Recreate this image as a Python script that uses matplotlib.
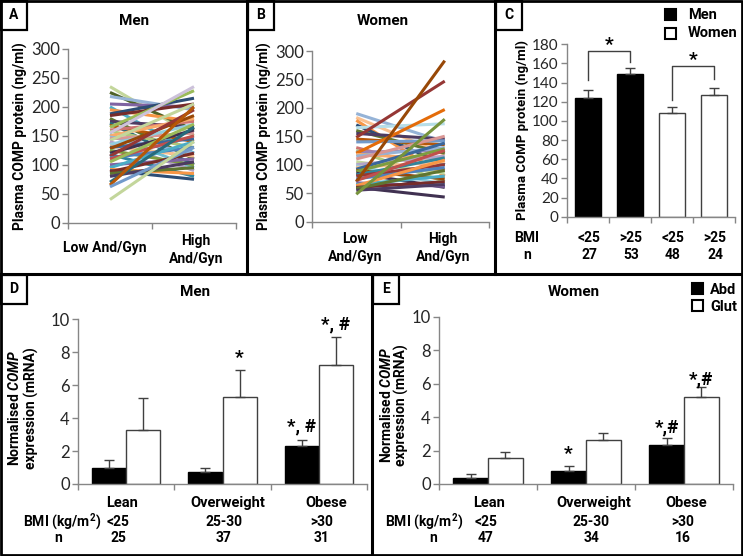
import matplotlib
matplotlib.use("Agg")
import matplotlib.pyplot as plt
from matplotlib.patches import Rectangle
from matplotlib.lines import Line2D

plt.rcParams['font.family'] = ['Roboto', 'DejaVu Sans']
plt.rcParams['mathtext.fontset'] = 'custom'
plt.rcParams['mathtext.bfit'] = 'Roboto:italic:bold'
plt.rcParams['mathtext.bf'] = 'Roboto:bold'

W, H = 743, 556
BOLD = "bold"

# panel A / B : plasma COMP per subject, low vs high And/Gyn
groups_ab = ["Low And/Gyn", "High\nAnd/Gyn"]
men_low = [235, 225, 218, 205, 200, 195, 188, 185, 180, 175, 172, 168, 165, 160, 158, 155,
           152, 150, 148, 145, 142, 140, 135, 132, 130, 128, 125, 120, 118, 115, 112, 110,
           105, 100, 95, 92, 90, 88, 85, 80, 70, 65, 62, 40]
men_high = [150, 160, 195, 200, 120, 175, 215, 205, 110, 165, 100, 140, 228, 175, 130, 235,
            95, 180, 120, 155, 205, 90, 170, 115, 145, 185, 100, 160, 80, 195, 130, 150,
            170, 110, 140, 85, 75, 120, 95, 105, 165, 200, 130, 140]
women_low = [190, 183, 178, 170, 165, 160, 155, 148, 145, 140, 130, 125, 122, 120, 118, 115,
             110, 105, 100, 98, 95, 92, 90, 88, 85, 82, 80, 75, 72, 70, 68, 65, 63, 60, 60,
             58, 55, 48]
women_high = [140, 118, 80, 100, 172, 120, 145, 247, 135, 142, 90, 70, 125, 197, 110, 130,
              150, 85, 115, 65, 105, 138, 75, 128, 60, 112, 100, 95, 125, 283, 62, 80, 108,
              43, 70, 90, 65, 180]

# panel C
c_labels = ["<25", ">25", "<25", ">25"]
c_n = ["27", "53", "48", "24"]
c_men = [124, 149]
c_men_err = [8, 6]
c_women = [108, 127]
c_women_err = [7, 7]

# panel D / E
bmi_groups = ["Lean", "Overweight", "Obese"]
bmi_ranges = ["<25", "25-30", ">30"]
d_n = ["25", "37", "31"]
e_n = ["47", "34", "16"]
d_abd = [1.0, 0.7, 2.3]
d_abd_err = [0.45, 0.3, 0.4]
d_glut = [3.3, 5.3, 7.2]
d_glut_err = [1.9, 1.6, 1.7]
e_abd = [0.35, 0.8, 2.35]
e_abd_err = [0.25, 0.3, 0.4]
e_glut = [1.55, 2.65, 5.2]
e_glut_err = [0.35, 0.4, 0.6]

palette = ["#4F81BD", "#C0504D", "#9BBB59", "#8064A2", "#4BACC6", "#F79646",
           "#2C4D75", "#772C2A", "#5F7530", "#4D3B62", "#276A7C", "#B65708",
           "#729ACA", "#CD7371", "#AFC97A", "#9983B5", "#6FBDD1", "#F9AB6B",
           "#95B3D7", "#D99694", "#C3D69B", "#B3A2C7", "#93CDDD", "#FAC090",
           "#3A679C", "#984807", "#7E9D40", "#403151", "#31859C", "#953735"]

men_colors = [palette[i % len(palette)] for i in range(len(men_low))]
men_colors[0] = "#C3D69B"
men_colors[1] = "#4F6228"
men_colors[2] = "#95B3D7"
men_colors[12] = "#9BBB59"
men_colors[15] = "#CCC1DA"
men_colors[43] = "#C3D69B"
women_colors = [palette[(i + 3) % len(palette)] for i in range(len(women_low))]
women_colors[0] = "#95B3D7"
women_colors[1] = "#FAC090"
women_colors[4] = "#B7DEE8"
women_colors[7] = "#953735"
women_colors[13] = "#E46C0A"
women_colors[29] = "#984807"
women_colors[33] = "#403151"
women_colors[37] = "#77933C"

AXC = "#868686"
TXT = "#262626"

fig = plt.figure(figsize=(W / 100, H / 100), dpi=100)


def ax_at(x0, y0, x1, y1):
    return fig.add_axes([x0 / W, 1 - y1 / H, (x1 - x0) / W, (y1 - y0) / H])


def ftext(x, y, s, **kw):
    kw.setdefault("ha", "center")
    kw.setdefault("va", "center")
    kw.setdefault("fontweight", BOLD)
    kw.setdefault("color", "black")
    fig.text(x / W, 1 - y / H, s, **kw)


def fline(xs, ys, lw=2.2):
    fig.add_artist(Line2D([x / W for x in xs], [1 - y / H for y in ys],
                          color="black", lw=lw, transform=fig.transFigure))


def frect(x, y, w, h, fc="white", lw=1.5):
    fig.add_artist(Rectangle((x / W, 1 - (y + h) / H), w / W, h / H, fc=fc,
                             ec="black", lw=lw, transform=fig.transFigure))


def excel_axes(ax, ymax, ystep, ncat, fs):
    for s in ["top", "right"]:
        ax.spines[s].set_visible(False)
    for s in ["left", "bottom"]:
        ax.spines[s].set_color(AXC)
        ax.spines[s].set_linewidth(1)
    ax.set_ylim(0, ymax)
    ax.set_yticks(range(0, ymax + 1, ystep))
    ax.set_xlim(-0.5, ncat - 0.5)
    ax.set_xticks([i - 0.5 for i in range(ncat + 1)])
    ax.set_xticklabels([])
    ax.tick_params(axis="both", color=AXC, length=4, width=1, labelsize=fs,
                   labelcolor=TXT, pad=2)
    for lab in ax.get_yticklabels():
        lab.set_family(["Lato", "DejaVu Sans"])
    ax.patch.set_alpha(0)


# ---- A ----
axA = ax_at(68, 49, 236, 222.7)
excel_axes(axA, 300, 50, 2, 12)
for i in range(len(men_low)):
    axA.plot([0, 1], [men_low[i], men_high[i]], color=men_colors[i], lw=2.2,
             solid_capstyle="butt")
axA.set_ylabel("Plasma COMP protein (ng/ml)", fontsize=10, fontweight=BOLD, labelpad=2)
ftext(105, 248, "Low And/Gyn", fontsize=10)
ftext(196, 250, groups_ab[1], fontsize=10, linespacing=1.3)
ftext(134, 21, "Men", fontsize=11)

# ---- B ----
axB = ax_at(312, 51, 489, 221.5)
excel_axes(axB, 300, 50, 2, 12)
for i in range(len(women_low)):
    axB.plot([0, 1], [women_low[i], women_high[i]], color=women_colors[i],
             lw=2.2, solid_capstyle="butt")
axB.set_ylabel("Plasma COMP protein (ng/ml)", fontsize=10, fontweight=BOLD, labelpad=2)
ftext(355, 248, "Low\nAnd/Gyn", fontsize=10, linespacing=1.3)
ftext(443, 248, groups_ab[1], fontsize=10, linespacing=1.3)
ftext(383, 21, "Women", fontsize=11)

# ---- C ----
axC = ax_at(567, 44.3, 735, 216.7)
excel_axes(axC, 180, 20, 4, 11)
bw = 0.6
axC.bar([0, 1], c_men, bw, color="black", edgecolor="black", lw=1, zorder=2)
axC.bar([2, 3], c_women, bw, color="white", edgecolor="#404040", lw=1, zorder=2)
axC.errorbar([0, 1], c_men, yerr=[[0, 0], c_men_err], fmt="none", ecolor="#404040",
             elinewidth=1, capsize=3.5, zorder=3)
axC.errorbar([2, 3], c_women, yerr=[[0, 0], c_women_err], fmt="none", ecolor="#404040",
             elinewidth=1, capsize=3.5, zorder=3)
axC.plot([0, 0, 1, 1], [143, 173, 173, 162], color="#404040", lw=1)
axC.plot([2, 2, 3, 3], [122, 157, 157, 144], color="#404040", lw=1)
axC.text(0.5, 170, "*", ha="center", va="bottom", fontsize=14, fontweight=BOLD)
axC.text(2.5, 154, "*", ha="center", va="bottom", fontsize=14, fontweight=BOLD)
axC.set_ylabel("Plasma COMP protein (ng/ml)", fontsize=9.5, fontweight=BOLD, labelpad=2)
ftext(527, 238, "BMI", fontsize=10)
ftext(527, 255, "n", fontsize=10)
for i in range(4):
    ftext(589 + i * 42, 238, c_labels[i], fontsize=10)
    ftext(589 + i * 42, 255, c_n[i], fontsize=10)
frect(665, 9, 11, 11, fc="black")
frect(665, 28, 11, 11, fc="white")
ftext(688, 15, "Men", fontsize=10.5, ha="left")
ftext(688, 33, "Women", fontsize=10.5, ha="left")


# ---- D / E ----
def bmi_panel(x0, x1, ytop, abd, abd_err, glut, glut_err):
    ax = ax_at(x0, ytop, x1, 484)
    excel_axes(ax, 10, 2, 3, 12)
    bw = 0.355
    xs = list(range(3))
    ax.bar([x - bw / 2 for x in xs], abd, bw, color="black", edgecolor="black", lw=1, zorder=2)
    ax.bar([x + bw / 2 for x in xs], glut, bw, color="white", edgecolor="#404040", lw=1,
           zorder=2)
    ax.errorbar([x - bw / 2 for x in xs], abd, yerr=[[0] * 3, abd_err], fmt="none",
                ecolor="#404040", elinewidth=1, capsize=3.5, zorder=3)
    ax.errorbar([x + bw / 2 for x in xs], glut, yerr=[[0] * 3, glut_err], fmt="none",
                ecolor="#404040", elinewidth=1, capsize=3.5, zorder=3)
    return ax


axD = bmi_panel(78, 367, 319.3, d_abd, d_abd_err, d_glut, d_glut_err)
bw = 0.355
axD.text(1 + bw / 2, d_glut[1] + d_glut_err[1] + 0.2, "*", ha="center", va="bottom",
         fontsize=14, fontweight=BOLD)
axD.text(2 - bw / 2, d_abd[2] + d_abd_err[2] + 0.25, "*, #", ha="center", va="bottom",
         fontsize=13.5, fontweight=BOLD)
axD.text(2 + bw / 2, d_glut[2] + d_glut_err[2] + 0.25, "*, #", ha="center", va="bottom",
         fontsize=13.5, fontweight=BOLD)
ftext(15, 408, r"Normalised $\mathbfit{COMP}$", fontsize=10, rotation=90)
ftext(31, 408, "expression (mRNA)", fontsize=10, rotation=90)
ftext(195, 292, "Men", fontsize=11)
ftext(62, 522, r"BMI (kg/m$^\mathbf{2}$)", fontsize=10)
ftext(58, 538, "n", fontsize=10)
for i, xc in enumerate([122, 228, 326]):
    ftext(xc, 503, bmi_groups[i], fontsize=10.5)
    ftext(xc - 4, 522, bmi_ranges[i], fontsize=10)
    ftext(xc - 4, 538, d_n[i], fontsize=10)

axE = bmi_panel(439, 733, 316.7, e_abd, e_abd_err, e_glut, e_glut_err)
axE.text(1 - bw / 2, e_abd[1] + e_abd_err[1] + 0.15, "*", ha="center", va="bottom",
         fontsize=14, fontweight=BOLD)
axE.text(2 - bw / 2, e_abd[2] + e_abd_err[2] + 0.1, "*,#", ha="center", va="bottom",
         fontsize=13.5, fontweight=BOLD)
axE.text(2 + bw / 2, e_glut[2] + e_glut_err[2] - 0.1, "*,#", ha="center", va="bottom",
         fontsize=13.5, fontweight=BOLD)
ftext(386, 405, r"Normalised $\mathbfit{COMP}$", fontsize=10, rotation=90)
ftext(401, 405, "expression (mRNA)", fontsize=10, rotation=90)
ftext(574, 292, "Women", fontsize=11)
ftext(424, 522, r"BMI (kg/m$^\mathbf{2}$)", fontsize=10)
ftext(433, 538, "n", fontsize=10)
for i, xc in enumerate([489, 594, 686]):
    ftext(xc, 503, bmi_groups[i], fontsize=10.5)
    ftext(xc - 3, 522, bmi_ranges[i], fontsize=10)
    ftext(xc - 3, 538, e_n[i], fontsize=10)
frect(692, 283, 11, 11, fc="black")
frect(692, 300, 11, 11, fc="white")
ftext(710, 290, "Abd", fontsize=10.5, ha="left")
ftext(710, 307, "Glut", fontsize=10.5, ha="left")

# ---- borders and panel letters ----
fline([1, 742, 742, 1, 1], [1, 1, 555, 555, 1], lw=2)
fline([0, 743], [274, 274])
fline([247, 247], [0, 274])
fline([495, 495], [0, 274])
fline([372, 372], [274, 556])
for lx, ly, lt in [(0, 0, "A"), (247, 0, "B"), (495, 0, "C"), (0, 274, "D"), (372, 274, "E")]:
    frect(lx + 1, ly + 1, 26, 29, fc="white", lw=1.6)
    ftext(lx + 14, ly + 15, lt, fontsize=10)

fig.savefig("out.png", dpi=100)
